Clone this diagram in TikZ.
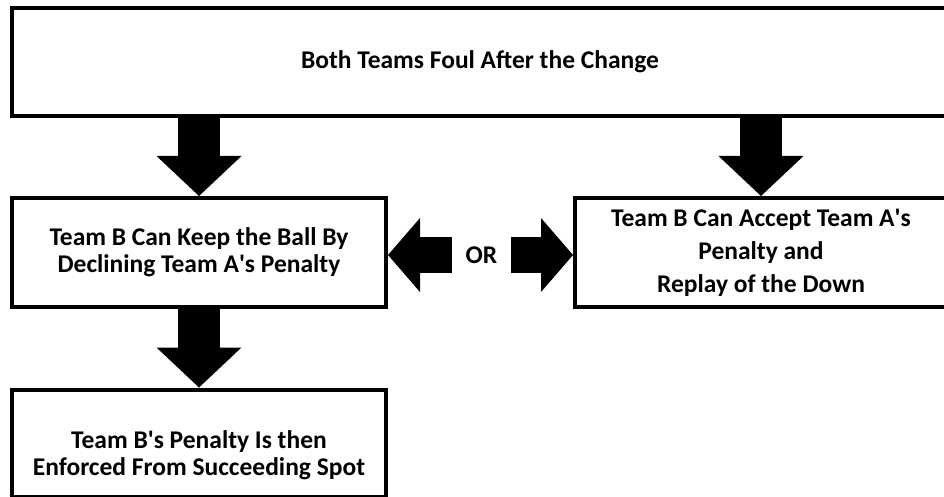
\documentclass[tikz,border=0pt]{standalone}
\usepackage{fontspec}
\setmainfont{Carlito}
\usetikzlibrary{arrows.meta}
\usetikzlibrary{positioning}

\newcommand{\apos}{\textquotesingle}

\begin{document}
\begin{tikzpicture}[
            x=1pt, y=-1pt,
            node distance=78.5pt,
            ruletext/.style = {align=center, inner sep=0, font=\bfseries\fontsize{25.5}{27}\selectfont},
            rulebox/.style = {draw, line width=4pt, ruletext},
            downarrow/.style = {line width=42pt, -{Triangle[length=40pt, width=85pt, line width=0pt]}},
            sidearrow/.style = {line width=36pt, -{Triangle[length=32pt, width=74pt, line width=0pt]}}
          ]
          \useasboundingbox (0,0) rectangle (944,497);
          \clip (0,0) rectangle (944,497);

          \node[rulebox, minimum width=936pt, minimum height=108pt] (change) at (480,62) {Both Teams Foul After the Change};
          \node[rulebox, minimum width=374pt, minimum height=109pt] (keep) at (199,252.5) {Team B Can Keep the Ball By\\Declining Team A\apos s Penalty};
          \node[rulebox, minimum width=372pt, minimum height=109pt] (accept) at (761,252.5) {Team B Can Accept Team A\apos s\\[6pt]Penalty and\\[6pt]Replay of the Down};
          \node[below=of keep, rulebox, minimum width=374pt, minimum height=107pt] (enforce) {};
          \node[ruletext, yshift=-12pt] (enforce_text) at (enforce.center) {Team B\apos s Penalty Is then\\Enforced From Succeeding Spot};
          \node[ruletext, minimum width=59pt] (or) at (481.5,255) {OR};

          \draw[downarrow] (keep.north |- change.south) -- (keep.north);
          \draw[downarrow] (accept.north |- change.south) -- (accept.north);
          \draw[downarrow] (keep.south) -- (enforce.north);
          \draw[sidearrow] (or.west) -- (or.west -| keep.east);
          \draw[sidearrow] (or.east) -- (or.east -| accept.west);
        \end{tikzpicture}
\end{document}
